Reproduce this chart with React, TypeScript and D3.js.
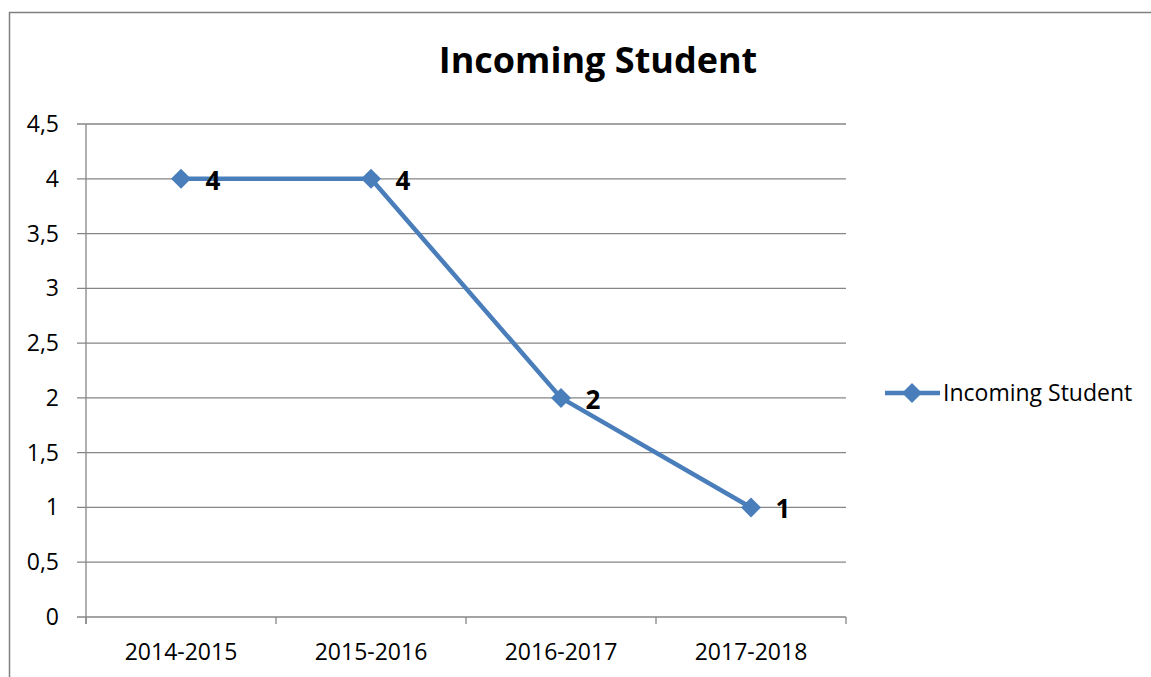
import React from "react";
import * as d3 from "d3";

const categories = ["2014-2015", "2015-2016", "2016-2017", "2017-2018"];
const values = [4, 4, 2, 1];
const yTicks = [0, 0.5, 1, 1.5, 2, 2.5, 3, 3.5, 4, 4.5];
const seriesName = "Incoming Student";
const title = "Incoming Student";

const FONT = "'Open Sans', sans-serif";
const BLUE = "#4A7EBB";
const GRID = "#868686";

function App() {
  const svgRef = React.useRef<SVGSVGElement>(null);

  React.useEffect(() => {
    const width = 1151;
    const height = 677;
    const svg = d3.select(svgRef.current).attr("width", width).attr("height", height);
    svg.selectAll("*").remove();

    // outer chart border: only left and top edges are visible in the frame
    svg
      .append("path")
      .attr("d", `M9.5,${height} V12.5 H${width}`)
      .attr("fill", "none")
      .attr("stroke", "#7f7f7f")
      .attr("stroke-width", 1.5);

    // scales
    const xScale = d3.scaleBand<string>().domain(categories).range([86, 846]).padding(0);
    const yScale = d3.scaleLinear().domain([0, 4.5]).range([617, 124]);

    // gridlines + y labels
    const yAxis = svg.append("g");
    yAxis
      .selectAll("line")
      .data(yTicks)
      .enter()
      .append("line")
      .attr("x1", 77)
      .attr("x2", 846)
      .attr("y1", (d) => yScale(d))
      .attr("y2", (d) => yScale(d))
      .attr("stroke", GRID)
      .attr("stroke-width", 1.3);
    yAxis
      .selectAll("text")
      .data(yTicks)
      .enter()
      .append("text")
      .attr("x", 59)
      .attr("y", (d) => yScale(d))
      .attr("dy", "0.35em")
      .attr("text-anchor", "end")
      .attr("font-family", FONT)
      .attr("font-size", 23)
      .attr("fill", "#000")
      .text((d) => String(d).replace(".", ","));

    // y axis line
    svg
      .append("line")
      .attr("x1", 86)
      .attr("x2", 86)
      .attr("y1", yScale(4.5))
      .attr("y2", 624)
      .attr("stroke", GRID)
      .attr("stroke-width", 1.3);

    // x ticks at band edges
    const edges = categories.map((c) => xScale(c) as number).concat([846]);
    svg
      .append("g")
      .selectAll("line")
      .data(edges)
      .enter()
      .append("line")
      .attr("x1", (d) => d)
      .attr("x2", (d) => d)
      .attr("y1", 617)
      .attr("y2", 624)
      .attr("stroke", GRID)
      .attr("stroke-width", 1.3);

    svg
      .append("g")
      .selectAll("text")
      .data(categories)
      .enter()
      .append("text")
      .attr("x", (d) => (xScale(d) as number) + xScale.bandwidth() / 2)
      .attr("y", 660)
      .attr("text-anchor", "middle")
      .attr("font-family", FONT)
      .attr("font-size", 23)
      .attr("fill", "#000")
      .text((d) => d);

    // line series
    const cx = (i: number) => (xScale(categories[i]) as number) + xScale.bandwidth() / 2;
    const line = d3
      .line<number>()
      .x((_, i) => cx(i))
      .y((d) => yScale(d));
    svg
      .append("path")
      .datum(values)
      .attr("d", line)
      .attr("fill", "none")
      .attr("stroke", BLUE)
      .attr("stroke-width", 4.5)
      .attr("stroke-linejoin", "round");

    const diamond = d3.symbol().type(d3.symbolDiamond2).size(255);
    svg
      .append("g")
      .selectAll("path")
      .data(values)
      .enter()
      .append("path")
      .attr("d", diamond)
      .attr("transform", (d, i) => `translate(${cx(i)},${yScale(d)})`)
      .attr("fill", BLUE);

    // data labels
    svg
      .append("g")
      .selectAll("text")
      .data(values)
      .enter()
      .append("text")
      .attr("x", (_, i) => cx(i) + 32)
      .attr("y", (d) => yScale(d))
      .attr("dy", "0.42em")
      .attr("text-anchor", "middle")
      .attr("font-family", FONT)
      .attr("font-weight", "bold")
      .attr("font-size", 26)
      .attr("fill", "#000")
      .text((d) => d);

    // title
    svg
      .append("text")
      .attr("x", 598)
      .attr("y", 73)
      .attr("text-anchor", "middle")
      .attr("font-family", FONT)
      .attr("font-weight", "bold")
      .attr("font-size", 36)
      .attr("fill", "#000")
      .text(title);

    // legend
    const legend = svg.append("g");
    legend
      .append("line")
      .attr("x1", 885)
      .attr("x2", 940)
      .attr("y1", 393)
      .attr("y2", 393)
      .attr("stroke", BLUE)
      .attr("stroke-width", 4.5);
    legend
      .append("path")
      .attr("d", diamond)
      .attr("transform", "translate(912,393)")
      .attr("fill", BLUE);
    legend
      .append("text")
      .attr("x", 943)
      .attr("y", 393)
      .attr("dy", "0.35em")
      .attr("font-family", FONT)
      .attr("font-size", 23)
      .attr("fill", "#000")
      .text(seriesName);
  }, []);

  return (
    <svg
      ref={svgRef}
      style={{ position: "fixed", left: 0, top: 0, display: "block", background: "white" }}
    />
  );
}

export default App;
